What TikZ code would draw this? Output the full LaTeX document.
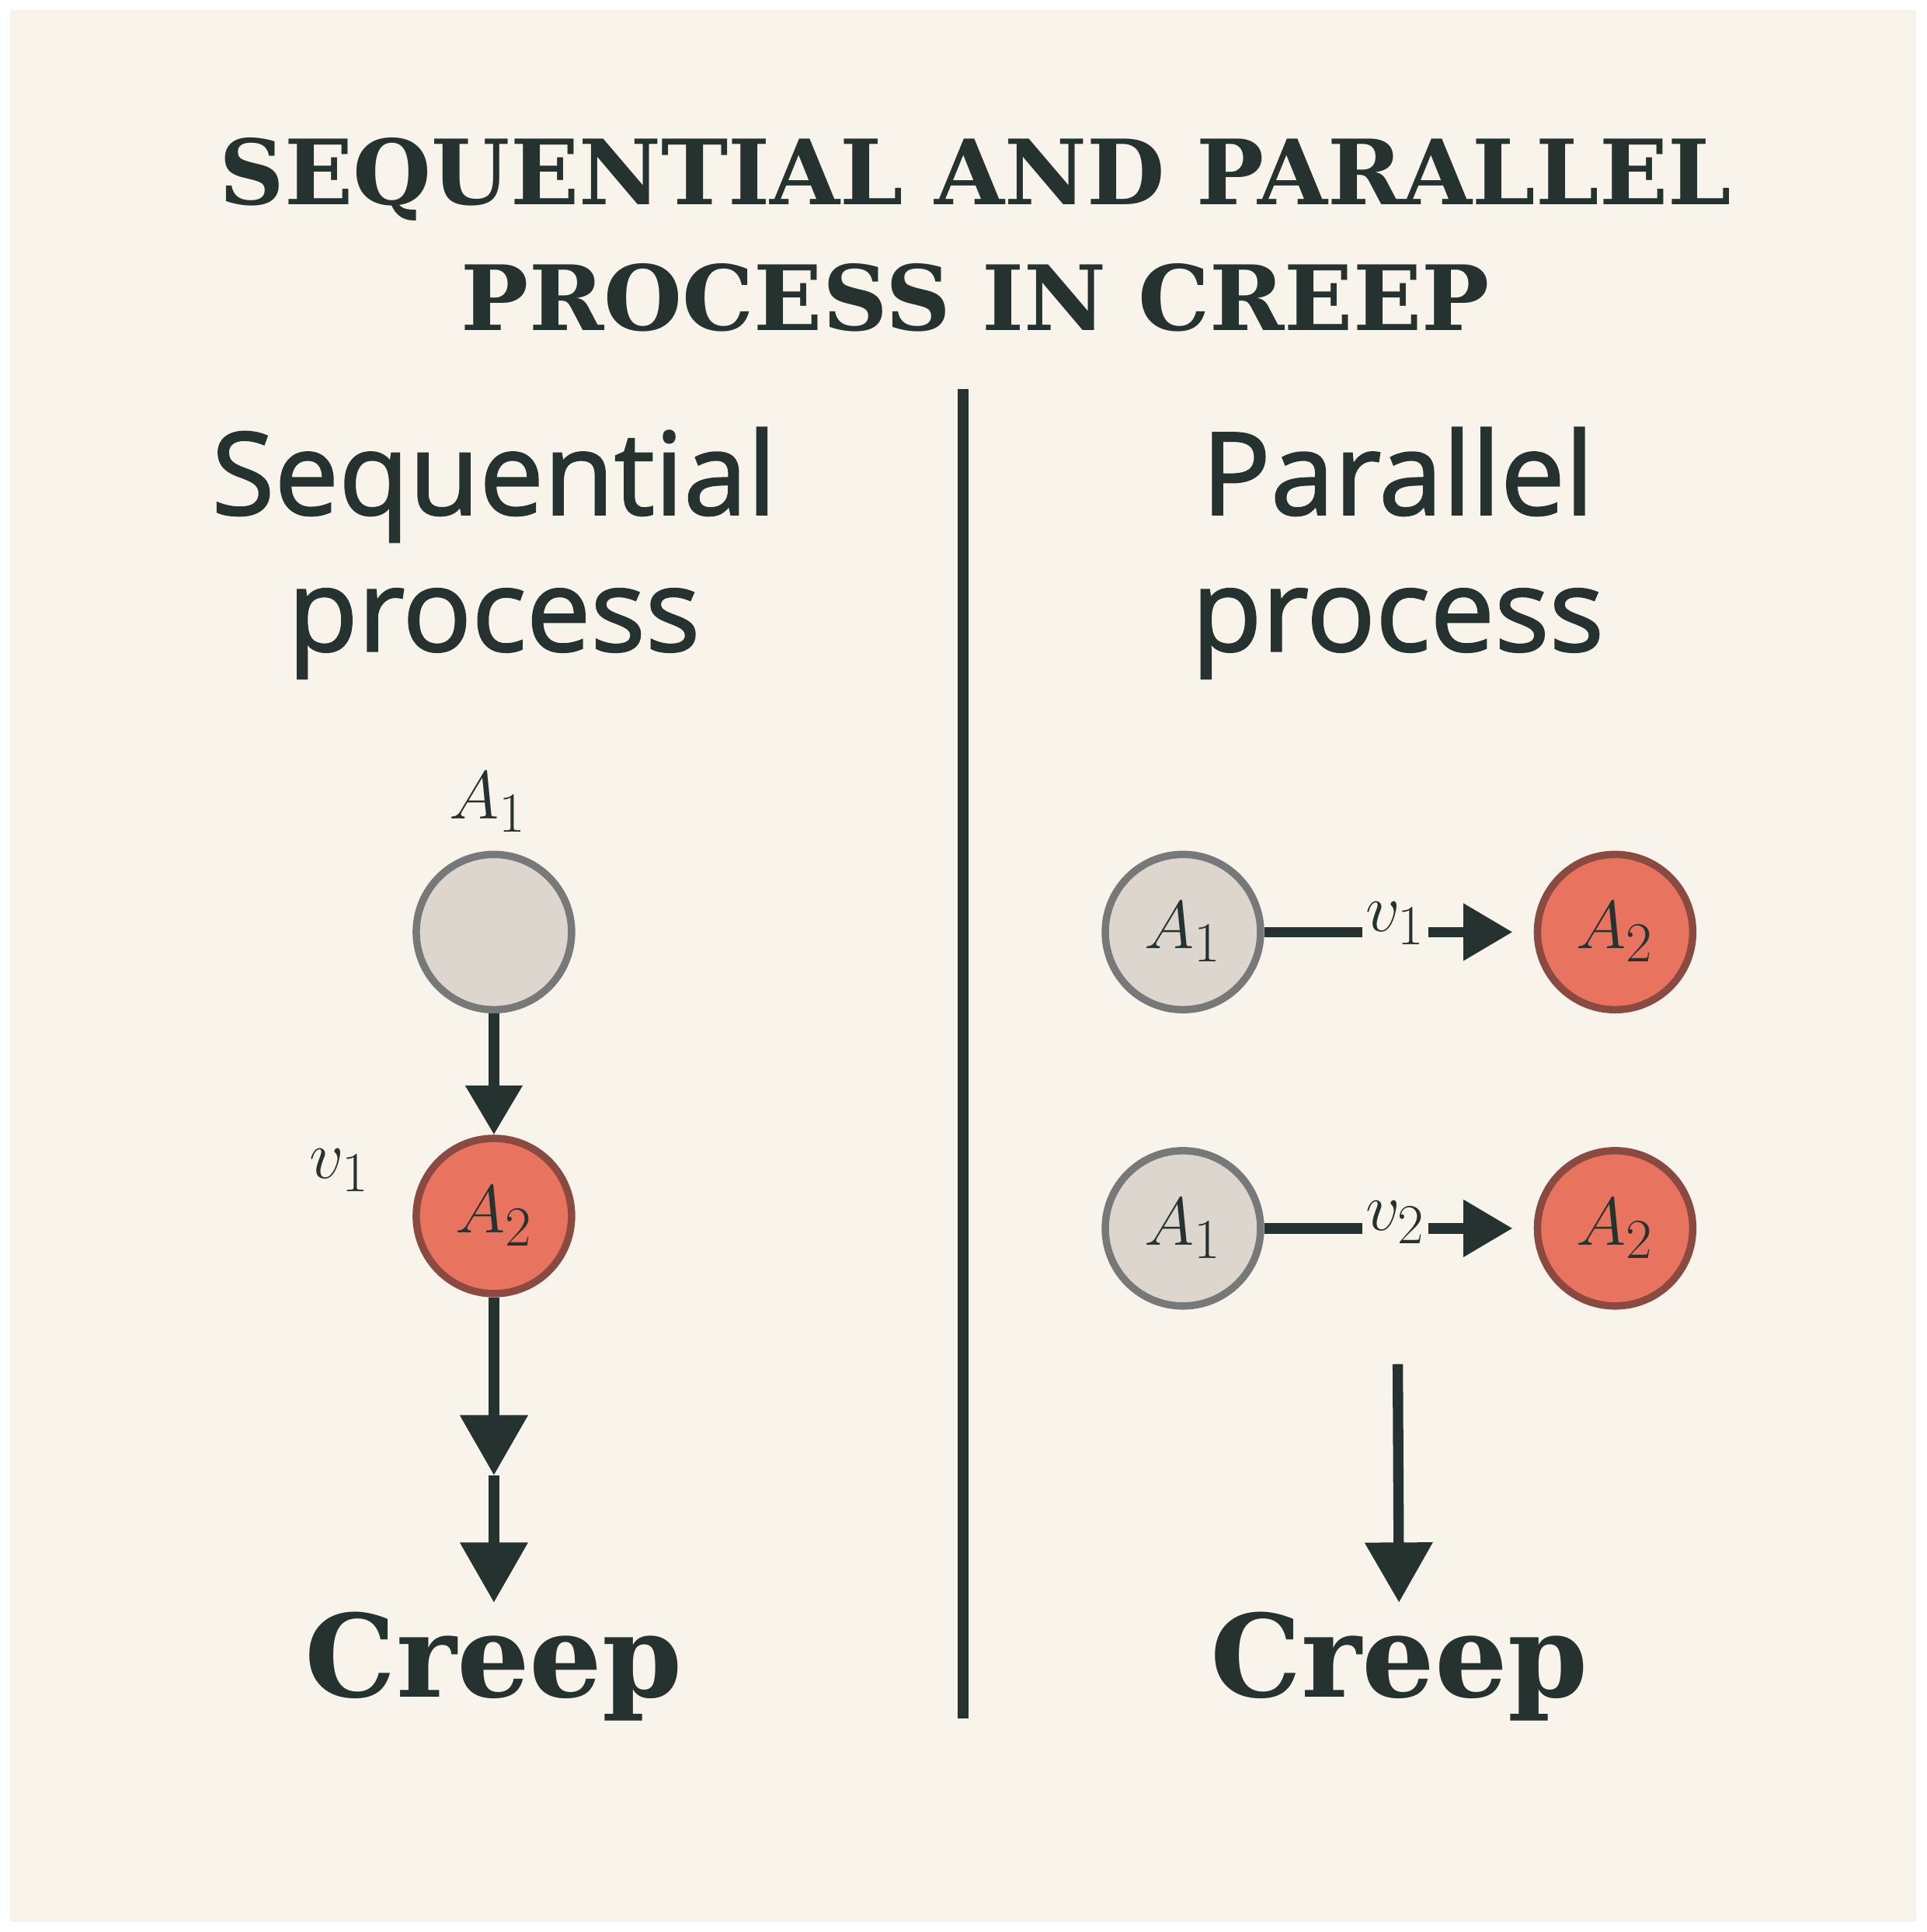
\documentclass[tikz,border=0pt]{standalone}
\usepackage{fontspec}
\setsansfont[FakeBold=1.6]{Open Sans}
\newfontfamily\tserif{DejaVu Serif}
\usetikzlibrary{arrows.meta}
\definecolor{bg}{HTML}{F8F4EC}
\definecolor{ink}{HTML}{263230}
\definecolor{greyfill}{HTML}{DDD6CE}
\definecolor{greyline}{HTML}{767978}
\definecolor{redfill}{HTML}{E8735E}
\definecolor{redline}{HTML}{8A4A42}
\tikzset{
 x=0.0159cm,y=-0.0159cm,
 gcirc/.style={circle,minimum size=2cm,inner sep=0pt,fill=greyfill,draw=greyline,line width=2.7pt,text=ink,font=\fontsize{30}{32}\selectfont},
 rcirc/.style={circle,minimum size=2cm,inner sep=0pt,fill=redfill,draw=redline,line width=2.7pt,text=ink,font=\fontsize{30}{32}\selectfont},
 arr/.style={draw=ink,line width=3.8pt,-{Triangle[length=18pt,width=20pt]}},
 bigarr/.style={draw=ink,line width=3.8pt,-{Triangle[length=22pt,width=24pt]}},
 heading/.style={font=\sffamily\fontsize{42}{50}\selectfont,text=ink,align=center},
 creep/.style={font=\tserif\bfseries\fontsize{42}{50}\selectfont,text=ink},
 lab/.style={font=\fontsize{30}{32}\selectfont,text=ink}
}
\begin{document}
\begin{tikzpicture}
\fill[white] (0,0) rectangle (1560,1565);
\fill[bg] (8,8) rectangle (1552,1557);
\node[font=\tserif\bfseries\fontsize{33}{46}\selectfont,text=ink,align=center] (title) at (790,190) {SEQUENTIAL AND PARALLEL\\PROCESS IN CREEP};
\coordinate (dt) at (780,315); \coordinate (db) at (780,1392);
\draw[ink,line width=3.8pt] (dt) -- (db);
\node[heading] (hs) at (400,448) {Sequential\\process};
\node[heading] (hp) at (1132,448) {Parallel\\process};
% left
\node[lab] (la1) at (395,650) {$A_1$};
\node[gcirc] (s1) at (400,755) {};
\node[rcirc] (s2) at (400,985) {$A_2$};
\node[lab] (lv1) at (275,948) {$v_1$};
\draw[arr] (s1) -- (s2);
\node[creep] (c1) at (400,1350) {Creep};
\coordinate (mid) at (400,1195);
\draw[bigarr] (s2) -- (mid);
\draw[bigarr] (mid) -- (c1.north);
% right
\node[gcirc] (p1) at (958,755) {$A_1$};
\node[rcirc] (p2) at (1308,755) {$A_2$};
\node[gcirc] (p3) at (958,995) {$A_1$};
\node[rcirc] (p4) at (1308,995) {$A_2$};
\node[lab,inner sep=1pt] (v1) at (1130,748) {$v_1$};
\node[lab,inner sep=1pt] (v2) at (1130,990) {$v_2$};
\coordinate (e1) at (1225,755); \coordinate (e2) at (1225,995);
\draw[ink,line width=3.8pt] (p1) -- (v1.west|-p1);
\draw[ink,line width=3.8pt] (p3) -- (v2.west|-p3);
\draw[arr] (v1.east|-p2) -- (e1);
\draw[arr] (v2.east|-p4) -- (e2);
\node[creep] (c2) at (1133,1350) {Creep};
\coordinate (pt) at (1132,1105);
\draw[bigarr] (pt) -- (c2.north);
\end{tikzpicture}
\end{document}
